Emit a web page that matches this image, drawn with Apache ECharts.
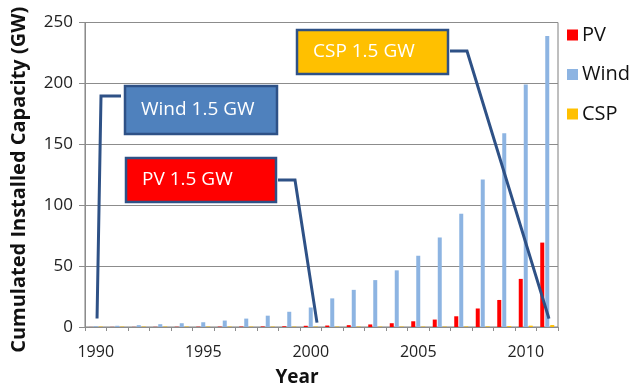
<!DOCTYPE html>
<html>
<head>
<meta charset="utf-8">
<script src="https://cdn.jsdelivr.net/npm/echarts@6/dist/echarts.min.js"></script>
<style>
html,body{margin:0;padding:0;background:#fff;}
#c{width:634px;height:392px;}
</style>
</head>
<body>
<div id="c"></div>
<script>
var years = ['1990','1991','1992','1993','1994','1995','1996','1997','1998','1999','2000','2001','2002','2003','2004','2005','2006','2007','2008','2009','2010','2011'];
var pv = [0.05,0.1,0.1,0.15,0.2,0.25,0.3,0.35,0.45,0.6,1.0,1.2,1.5,2.1,3.1,4.7,6.1,8.8,15.2,22.2,39.5,69.3];
var wind = [0.6,1.0,1.5,2.3,3.1,3.9,5.3,6.9,9.3,12.5,16.0,23.5,30.5,38.5,46.5,58.5,73.5,93,121,159,199,239];
var csp = [0.35,0.35,0.35,0.35,0.35,0.35,0.35,0.35,0.35,0.35,0.35,0.35,0.35,0.35,0.35,0.35,0.35,0.43,0.48,0.7,1.1,1.6];
var yTicks = [0,50,100,150,200,250];
var xTickLabels = ['1990','1995','2000','2005','2010'];

// annotation callouts: label text, target year, offset within band, target value
var notes = [
  {text:'Wind 1.5 GW', fill:'#4f81bd', box:[125,86,152,48], elbow:[[121,96],[101,96]], year:'1990', frac:0.06, value:6.9},
  {text:'PV 1.5 GW', fill:'#ff0000', box:[126,158,150,44], elbow:[[278,180],[295,180]], year:'2000', frac:0.29, value:3.6},
  {text:'CSP 1.5 GW', fill:'#ffc000', box:[297,30,151,44], elbow:[[450,51],[467,51]], year:'2011', frac:0.08, value:6.9}
];

var chart = echarts.init(document.getElementById('c'), null, {renderer:'canvas'});
var font = '"Open Sans", "Liberation Sans", sans-serif';
var barCommon = {type:'bar', barWidth:4, barGap:'25%', animation:false};
chart.setOption({
  animation:false,
  backgroundColor:'#fff',
  textStyle:{fontFamily:font},
  grid:{left:85, right:76, top:22.5, bottom:60.5, show:true, borderColor:'#7f7f7f', borderWidth:1, containLabel:false},
  legend:{
    orient:'vertical', left:562, top:20, icon:'rect', itemWidth:11, itemHeight:11, itemGap:19.5,
    textStyle:{fontFamily:font, fontSize:20, color:'#111', lineHeight:20, padding:[0,0,0,-1]},
    data:['PV','Wind','CSP']
  },
  xAxis:{
    type:'category', data:years,
    name:'Year', nameLocation:'middle', nameGap:41,
    nameTextStyle:{fontFamily:font, fontSize:19, fontWeight:'bold', color:'#111', padding:[0,49,0,0]},
    axisLine:{lineStyle:{color:'#8c8c8c', width:1}},
    axisTick:{show:true, alignWithLabel:false, interval:0, length:4, lineStyle:{color:'#8c8c8c'}},
    axisLabel:{interval:0, margin:17, fontSize:16, color:'#222', fontFamily:font,
      formatter:function(v){ return xTickLabels.indexOf(v) >= 0 ? v : ''; }},
    splitLine:{show:false}
  },
  yAxis:{
    type:'value', min:yTicks[0], max:yTicks[yTicks.length-1], interval:50,
    name:'Cumulated Installed Capacity (GW)', nameLocation:'middle', nameGap:56,
    nameTextStyle:{fontFamily:font, fontSize:20, fontWeight:'bold', color:'#111', padding:[0,10,0,0]},
    axisLine:{show:true, lineStyle:{color:'#8c8c8c'}},
    axisTick:{show:true, length:6, lineStyle:{color:'#8c8c8c'}},
    axisLabel:{margin:12, fontSize:17, color:'#222', fontFamily:font},
    splitLine:{show:true, lineStyle:{color:'#8c8c8c', width:1}}
  },
  series:[
    Object.assign({name:'PV', data:pv, itemStyle:{color:'#ff0000'}}, barCommon),
    Object.assign({name:'Wind', data:wind, itemStyle:{color:'#8db4e2'}}, barCommon),
    Object.assign({name:'CSP', data:csp, itemStyle:{color:'#ffc000'}}, barCommon)
  ]
});

function targetPixel(n){
  var i = years.indexOf(n.year);
  var p0 = chart.convertToPixel({xAxisIndex:0}, years[i]);
  var p1 = chart.convertToPixel({xAxisIndex:0}, years[Math.min(i+1, years.length-1)]);
  var band = (i+1 < years.length) ? (p1 - p0) : (p0 - chart.convertToPixel({xAxisIndex:0}, years[i-1]));
  var x = p0 + n.frac * band;
  var y = chart.convertToPixel({yAxisIndex:0}, n.value);
  return [x, y];
}

var elements = [];
notes.forEach(function(n){
  var t = targetPixel(n);
  var pts = n.elbow.concat([t]);
  elements.push({type:'polyline', shape:{points:pts}, style:{stroke:'#2e5186', lineWidth:3, fill:null, lineJoin:'miter'}, z:100});
  elements.push({type:'rect', shape:{x:n.box[0], y:n.box[1], width:n.box[2], height:n.box[3]},
    style:{fill:n.fill, stroke:'#2e5186', lineWidth:2.5}, z:101});
  elements.push({type:'text', x:n.box[0]+16, y:n.box[1]+n.box[3]/2,
    style:{text:n.text, fill:'#ffffff', font:'19px ' + font, textVerticalAlign:'middle', textAlign:'left'}, z:102});
});
chart.setOption({graphic:{elements:elements}});
</script>
</body>
</html>
